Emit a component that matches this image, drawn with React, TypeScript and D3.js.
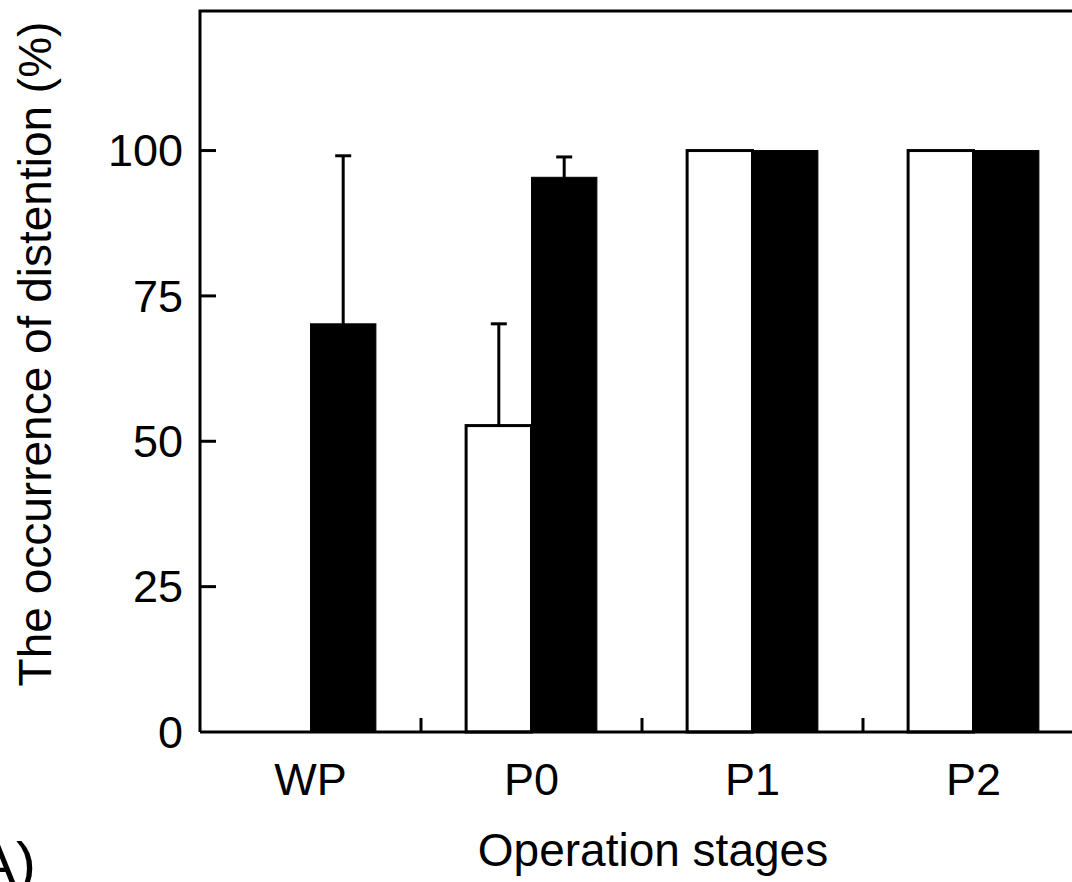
import React, { useEffect, useRef } from 'react'

import * as d3 from 'd3'

const categories = ['WP', 'P0', 'P1', 'P2']
const seriesKeys = ['open', 'filled']
const openValues = [0, 52.7, 100, 100]
const openErrors = [0, 17.5, 0, 0]
const filledValues = [70.2, 95.4, 100, 100]
const filledErrors = [28.9, 3.5, 0, 0]
const yTicks = [0, 25, 50, 75, 100]

const App = () => {
  const svgRef = useRef(null)

  useEffect(() => {
    if (!svgRef.current) return
    const svg = d3.select(svgRef.current)
    svg.selectAll('*').remove()

    const width = 1072
    const height = 882
    const margin = { top: 11, left: 200, bottom: 732, right: 1084 }
    const font = "'Liberation Sans', Arial, sans-serif"

    svg.attr('width', width).attr('height', height)

    const x = d3
      .scaleBand()
      .domain(categories)
      .range([margin.left, margin.right])
      .padding(0)

    const xInner = d3
      .scaleBand()
      .domain(seriesKeys)
      .range([0, x.bandwidth()])
      .paddingInner(0)
      .paddingOuter(0.69)

    const y = d3.scaleLinear().domain([0, 124]).range([margin.bottom, margin.top])

    const data = categories.map((c, i) => ({
      cat: c,
      bars: [
        { key: 'open', v: openValues[i], e: openErrors[i] },
        { key: 'filled', v: filledValues[i], e: filledErrors[i] },
      ],
    }))

    const groups = svg
      .append('g')
      .selectAll('g')
      .data(data)
      .join('g')
      .attr('transform', (d) => `translate(${x(d.cat)},0)`)

    // error bars (upper only), drawn under bars
    const errs = groups
      .selectAll('g.err')
      .data((d) => d.bars.filter((b) => b.e > 0))
      .join('g')
      .attr('class', 'err')
    errs
      .append('line')
      .attr('x1', (b) => xInner(b.key)! + xInner.bandwidth() / 2)
      .attr('x2', (b) => xInner(b.key)! + xInner.bandwidth() / 2)
      .attr('y1', (b) => y(b.v))
      .attr('y2', (b) => y(b.v + b.e))
      .attr('stroke', '#000')
      .attr('stroke-width', 3)
    errs
      .append('line')
      .attr('x1', (b) => xInner(b.key)! + xInner.bandwidth() / 2 - 8)
      .attr('x2', (b) => xInner(b.key)! + xInner.bandwidth() / 2 + 8)
      .attr('y1', (b) => y(b.v + b.e))
      .attr('y2', (b) => y(b.v + b.e))
      .attr('stroke', '#000')
      .attr('stroke-width', 3)

    groups
      .selectAll('rect')
      .data((d) => d.bars.filter((b) => b.v > 0))
      .join('rect')
      .attr('x', (b) => xInner(b.key)!)
      .attr('width', xInner.bandwidth())
      .attr('y', (b) => y(b.v))
      .attr('height', (b) => y(0) - y(b.v))
      .attr('fill', (b) => (b.key === 'open' ? '#fff' : '#000'))
      .attr('stroke', '#000')
      .attr('stroke-width', (b) => (b.key === 'open' ? 3 : 1))

    // frame: left, top, bottom
    svg
      .append('path')
      .attr(
        'd',
        `M${margin.left},${margin.bottom}V${margin.top}H${margin.right}M${margin.left},${margin.bottom}H${margin.right}`
      )
      .attr('fill', 'none')
      .attr('stroke', '#000')
      .attr('stroke-width', 3)

    // y ticks (inward) and labels
    const yAxis = svg.append('g')
    yAxis
      .selectAll('line')
      .data(yTicks.filter((t) => t > 0))
      .join('line')
      .attr('x1', margin.left)
      .attr('x2', margin.left + 16)
      .attr('y1', (t) => y(t))
      .attr('y2', (t) => y(t))
      .attr('stroke', '#000')
      .attr('stroke-width', 3)
    yAxis
      .selectAll('text')
      .data(yTicks)
      .join('text')
      .attr('x', margin.left - 17)
      .attr('y', (t) => y(t))
      .attr('dy', '0.35em')
      .attr('text-anchor', 'end')
      .style('font-family', font)
      .style('font-size', '45px')
      .text((t) => t)

    // x ticks between categories (inward)
    svg
      .append('g')
      .selectAll('line')
      .data(categories.slice(1))
      .join('line')
      .attr('x1', (c) => x(c)!)
      .attr('x2', (c) => x(c)!)
      .attr('y1', margin.bottom)
      .attr('y2', margin.bottom - 14)
      .attr('stroke', '#000')
      .attr('stroke-width', 3)

    svg
      .append('g')
      .selectAll('text')
      .data(categories)
      .join('text')
      .attr('x', (c) => x(c)! + x.bandwidth() / 2)
      .attr('y', 795)
      .attr('text-anchor', 'middle')
      .style('font-family', font)
      .style('font-size', '45px')
      .text((c) => c)

    svg
      .append('text')
      .attr('x', 653)
      .attr('y', 866)
      .attr('text-anchor', 'middle')
      .style('font-family', font)
      .style('font-size', '46px')
      .text('Operation stages')

    svg
      .append('text')
      .attr('transform', `translate(51,354) rotate(-90)`)
      .attr('text-anchor', 'middle')
      .style('font-family', font)
      .style('font-size', '46px')
      .text('The occurrence of distention (%)')

    svg
      .append('text')
      .attr('x', 36)
      .attr('y', 884)
      .attr('text-anchor', 'end')
      .style('font-family', font)
      .style('font-size', '60px')
      .text('(A)')
  }, [])

  return (
    <svg
      ref={svgRef}
      style={{ position: 'absolute', left: 0, top: 0, display: 'block', background: '#fff' }}
    ></svg>
  )
}

export default App
